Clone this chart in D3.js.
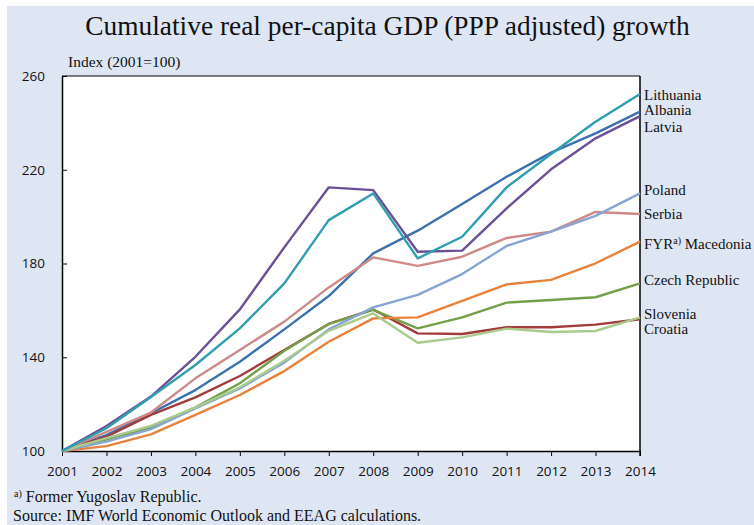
<!DOCTYPE html>
<html><head><meta charset="utf-8">
<script src="https://cdn.jsdelivr.net/npm/d3@7"></script>
<style>body{margin:0;background:#fff}svg{display:block}</style>
</head><body>
<svg id="c" width="754" height="525"></svg>
<script>
const years = [2001,2002,2003,2004,2005,2006,2007,2008,2009,2010,2011,2012,2013,2014];
const yTicks = [100,140,180,220,260];
const lithuania = [100,109.7,123,136.7,152.3,171.5,198.5,209.9,182.2,191.4,212.5,226.7,240.5,252.3];
const albania   = [100,106.8,116.1,126,138.1,151.9,166.1,184.3,194,205.4,217,227.3,235.5,244.8];
const latvia    = [100,110.7,123.2,140.2,160.4,186.9,212.5,211.3,185,185.5,203.5,220.2,233.4,242.9];
const poland    = [100,104,109.3,118.2,126.7,137.7,151.9,161.3,166.6,175.5,187.5,193.6,200.3,209.9];
const serbia    = [100,108.2,116.4,131,143.1,155.2,169.8,182.6,179,182.9,190.9,193.6,202,201.1];
const macedonia = [100,102.1,107.1,115.4,123.9,134.1,146.6,156.6,157,164.1,171.1,173,180.1,189.3];
const czech     = [100,105,110.1,118.6,128.9,142.8,154.2,160.2,152.3,157,163.3,164.4,165.6,171.5];
const slovenia  = [100,105.5,110.7,118.6,127.2,138.5,151.3,158.7,146.2,148.5,152.2,150.8,151.2,157];
const croatia   = [100,106.1,115.4,122.9,132,143.1,154.2,160.4,150.2,149.9,152.8,152.8,153.9,156.2];

const series = [
  {name:"Albania", values:albania, color:"#3b72ad", ly:110},
  {name:"Croatia", values:croatia, color:"#a23b3c", ly:329},
  {name:"Czech Republic", values:czech, color:"#74a049", ly:280},
  {name:"Macedonia", values:macedonia, color:"#e8823a", ly:244, fyr:true},
  {name:"Serbia", values:serbia, color:"#cd8a89", ly:214},
  {name:"Poland", values:poland, color:"#86a5d2", ly:190},
  {name:"Slovenia", values:slovenia, color:"#a9cb8d", ly:314},
  {name:"Latvia", values:latvia, color:"#6b5095", ly:127},
  {name:"Lithuania", values:lithuania, color:"#2f9eae", ly:95}
];

const svg = d3.select("#c");
svg.append("rect").attr("x",7).attr("y",6).attr("width",747).attr("height",519).attr("fill","#dfe6f3");

const L=62,R=640,T=76,B=451;
const x = d3.scaleLinear().domain([2001,2014]).range([L,R]);
const y = d3.scaleLinear().domain([100,260]).range([B,T]);

svg.append("rect").attr("x",L).attr("y",T).attr("width",R-L).attr("height",B-T).attr("fill","#fff");

svg.append("text").attr("x",387.5).attr("y",35).attr("text-anchor","middle")
  .attr("font-family","Liberation Serif, Times New Roman, serif").attr("font-size",27.4).attr("fill","#111")
  .text("Cumulative real per-capita GDP (PPP adjusted) growth");
svg.append("text").attr("x",68).attr("y",67)
  .attr("font-family","Liberation Serif, serif").attr("font-size",15.5).attr("fill","#111")
  .text("Index (2001=100)");

// axes
const xa = svg.append("g").attr("transform",`translate(0,${B})`)
  .call(d3.axisBottom(x).tickValues(years).tickFormat(d3.format("d")).tickSize(5).tickSizeOuter(0));
xa.select(".domain").attr("stroke","#000").attr("stroke-width",1.5);
xa.selectAll(".tick line").attr("stroke","#000");
xa.selectAll(".tick text").attr("font-family","Open Sans, Liberation Sans, sans-serif").attr("font-size",13.5).attr("fill","#111").attr("dy","1.25em");

const ya = svg.append("g").attr("transform",`translate(${L},0)`)
  .call(d3.axisLeft(y).tickValues(yTicks).tickSize(-5).tickSizeOuter(0));
ya.select(".domain").attr("stroke","#000").attr("stroke-width",1.5);
ya.selectAll(".tick line").attr("stroke","#000");
ya.selectAll(".tick text").attr("font-family","Open Sans, Liberation Sans, sans-serif").attr("font-size",13.5).attr("fill","#111").attr("x",-17);

// top and right border
svg.append("line").attr("x1",L).attr("x2",R).attr("y1",T).attr("y2",T).attr("stroke","#000").attr("stroke-width",1.2);
svg.append("line").attr("x1",R).attr("x2",R).attr("y1",T).attr("y2",B+5).attr("stroke","#000").attr("stroke-width",1.5);

const line = d3.line().x((d,i)=>x(years[i])).y(d=>y(d));
svg.append("g").selectAll("path").data(series).join("path")
  .attr("d",d=>line(d.values)).attr("fill","none").attr("stroke",d=>d.color)
  .attr("stroke-width",2.4).attr("stroke-linejoin","round");

// labels
const lab = svg.append("g").attr("font-family","Liberation Serif, Times New Roman, serif").attr("font-size",15).attr("fill","#111");
series.forEach(s=>{
  const t = lab.append("text").attr("x",R+4).attr("y",s.ly).attr("dy","0.35em");
  if(s.fyr){
    t.append("tspan").text("FYR");
    t.append("tspan").attr("font-size",10).attr("dy","-0.55em").text("a)");
    t.append("tspan").attr("dy","0.35em").text(" Macedonia");
  } else t.text(s.name);
});

const foot = svg.append("g").attr("font-family","Liberation Serif, Times New Roman, serif").attr("fill","#111");
const f1 = foot.append("text").attr("x",14).attr("y",502).attr("font-size",16);
f1.append("tspan").attr("font-size",10).attr("dy","-5").text("a)");
f1.append("tspan").attr("dy","5").text(" Former Yugoslav Republic.");
foot.append("text").attr("x",13).attr("y",521).attr("font-size",16).text("Source: IMF World Economic Outlook and EEAG calculations.");
</script>
</body></html>
